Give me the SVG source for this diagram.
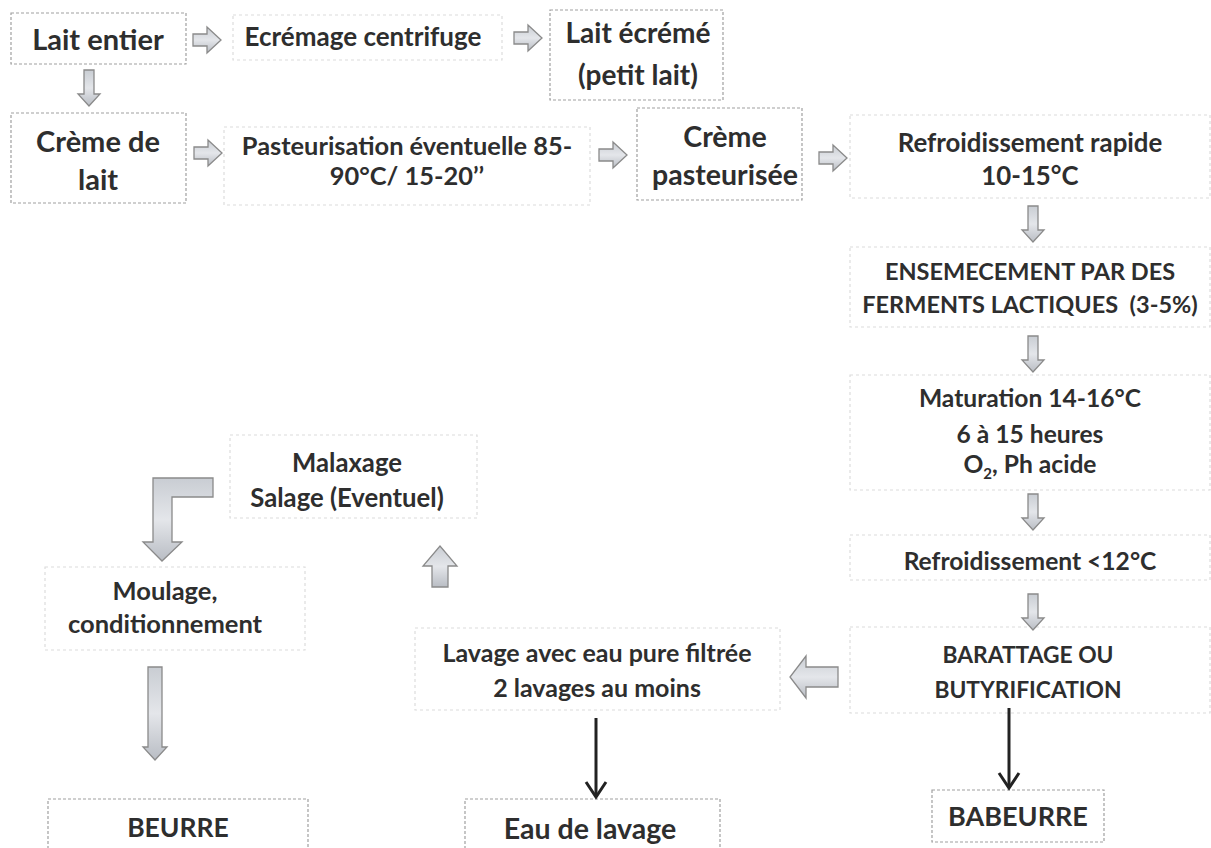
<svg xmlns="http://www.w3.org/2000/svg" width="1211" height="848" viewBox="0 0 1211 848">
<style>
.t{font-family:Lato,"Open Sans","Liberation Sans",sans-serif;font-weight:bold;fill:#2e2e2e;text-anchor:middle}
.b{fill:#fff;stroke:#a0a0a0;stroke-width:1.2;stroke-dasharray:3 2}
.l{fill:#fff;stroke:#dcdcdc;stroke-width:1.2;stroke-dasharray:3 3}
.ga{fill:url(#g);stroke:#8a8a8a;stroke-width:1.3}
.ka{stroke:#222;stroke-width:3;fill:none}
</style>
<defs>
<linearGradient id="g" x1="0" y1="0" x2="0" y2="1"><stop offset="0" stop-color="#c9cdd3"/><stop offset="0.5" stop-color="#e4e6ea"/><stop offset="1" stop-color="#b9bdc4"/></linearGradient>
<path id="ar" d="M0,-6 H14 V-13 L28,0 L14,13 V6 H0 Z"/>
<path id="ad" d="M-5,0 H5 V24 H11 L0,36 L-11,24 H-5 Z"/>
</defs>
<rect width="1211" height="848" fill="#fff"/>
<g id="n1"><rect class="b" x="11" y="13" width="175" height="51"/><text class="t" x="98" y="50" font-size="29">Lait entier</text></g>
<g id="n2"><rect class="l" x="233" y="15" width="269" height="45"/><text class="t" x="363" y="46" font-size="26">Ecrémage centrifuge</text></g>
<g id="n3"><rect class="b" x="550" y="10" width="173" height="90"/><text class="t" x="638" y="43" font-size="28">Lait écrémé</text><text class="t" x="638" y="85" font-size="28">(petit lait)</text></g>
<g id="n4"><rect class="b" x="11" y="113" width="175" height="90"/><text class="t" x="98" y="152" font-size="29">Crème de</text><text class="t" x="98" y="190" font-size="29">lait</text></g>
<g id="n5"><rect class="l" x="224" y="127" width="366" height="78"/><text class="t" x="407" y="155" font-size="25.4">Pasteurisation éventuelle 85-</text><text class="t" x="407" y="185" font-size="25.4">90°C/ 15-20’’</text></g>
<g id="n6"><rect class="b" x="637" y="108" width="165" height="92"/><text class="t" x="725" y="147" font-size="28.5">Crème</text><text class="t" x="725" y="185" font-size="28.5">pasteurisée</text></g>
<g id="n7"><rect class="l" x="850" y="115" width="360" height="83"/><text class="t" x="1030" y="152" font-size="25.8">Refroidissement rapide</text><text class="t" x="1030" y="185" font-size="25.8">10-15°C</text></g>
<g id="n8"><rect class="l" x="850" y="247" width="360" height="80"/><text class="t" x="1030" y="280" font-size="23.5">ENSEMECEMENT PAR DES</text><text class="t" x="1030" y="313" font-size="23.5" xml:space="preserve">FERMENTS LACTIQUES  (3-5%)</text></g>
<g id="n9"><rect class="l" x="850" y="375" width="360" height="115"/><text class="t" x="1030" y="407" font-size="24.6">Maturation 14-16°C</text><text class="t" x="1030" y="443" font-size="24.6">6 à 15 heures</text><text class="t" x="1030" y="473" font-size="24.6">O<tspan font-size="15" dy="6">2</tspan><tspan dy="-6">, Ph acide</tspan></text></g>
<g id="n10"><rect class="l" x="850" y="535" width="360" height="45"/><text class="t" x="1030" y="570" font-size="24.6">Refroidissement &lt;12°C</text></g>
<g id="n11"><rect class="l" x="850" y="627" width="360" height="86"/><text class="t" x="1028" y="663" font-size="22.8">BARATTAGE OU</text><text class="t" x="1028" y="698" font-size="22.8">BUTYRIFICATION</text></g>
<g id="n12"><rect class="l" x="415" y="628" width="365" height="82"/><text class="t" x="597" y="662" font-size="25">Lavage avec eau pure filtrée</text><text class="t" x="597" y="697" font-size="25">2 lavages au moins</text></g>
<g id="n13"><rect class="b" x="465" y="799" width="255" height="55"/><text class="t" x="590" y="839" font-size="28.5">Eau de lavage</text></g>
<g id="n14"><rect class="b" x="932" y="790" width="172" height="52"/><text class="t" x="1018" y="826" font-size="27">BABEURRE</text></g>
<g id="n15"><rect class="l" x="230" y="435" width="247" height="83"/><text class="t" x="347" y="472" font-size="25.7">Malaxage</text><text class="t" x="347" y="507" font-size="25.7">Salage (Eventuel)</text></g>
<g id="n16"><rect class="l" x="45" y="567" width="260" height="83"/><text class="t" x="165" y="600" font-size="25.5">Moulage,</text><text class="t" x="165" y="633" font-size="25.5">conditionnement</text></g>
<g id="n17"><rect class="b" x="48" y="799" width="260" height="55"/><text class="t" x="178" y="837" font-size="26.5">BEURRE</text></g>
<g id="connectors">
<use href="#ar" class="ga" x="193" y="40"/>
<use href="#ar" class="ga" x="514" y="38"/>
<use href="#ad" class="ga" x="89" y="70"/>
<use href="#ar" class="ga" x="194" y="153"/>
<use href="#ar" class="ga" x="599" y="155"/>
<use href="#ar" class="ga" x="819" y="158"/>
<use href="#ad" class="ga" x="1033" y="206"/>
<use href="#ad" class="ga" x="1033" y="336"/>
<use href="#ad" class="ga" x="1033" y="494"/>
<use href="#ad" class="ga" x="1033" y="594"/>
<path class="ga" d="M838,667 H806 V656 L790,677 L806,698 V687 H838 Z"/>
<path class="ga" d="M432,587 V566 H423 L440,546 L457,566 H448 V587 Z"/>
<path class="ga" d="M213,478 V497 H172 V542 H182 L162,561 L143,542 H153 V478 Z"/>
<path class="ga" d="M148,667 H162 V747 H167 L155,760 L143,747 H148 Z"/>
<path class="ka" d="M596,718 V797"/><path class="ka" d="M586,782 L596,797 L606,782"/>
<path class="ka" d="M1009,708 V788"/><path class="ka" d="M999,773 L1009,788 L1019,773"/>
</g>
</svg>
